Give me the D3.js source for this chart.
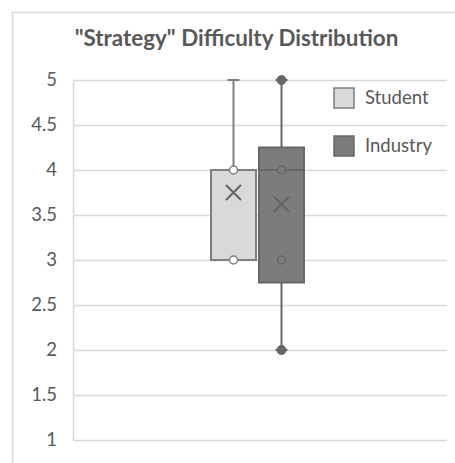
<!DOCTYPE html>
<html>
<head>
<meta charset="utf-8">
<script src="https://cdn.jsdelivr.net/npm/d3@7"></script>
<style>
  html, body { margin: 0; padding: 0; background: #fff; }
  svg { display: block; }
</style>
</head>
<body>
<svg id="chart" width="455" height="463"></svg>
<script>
// Box-plot statistics for each group
const seriesNames = ["Student", "Industry"];
const q1Values = [3, 2.75];
const q3Values = [4, 4.25];
const medianValues = [4, 4];
const lowWhiskers = [3, 2];
const highWhiskers = [5, 5];
const meanValues = [3.75, 3.62];
// Individual points plotted on each box
const innerPoints = [[3, 4], [3, 4]];
const endPoints = [[], [2, 5]];
// Value axis ticks
const tickValues = [1, 1.5, 2, 2.5, 3, 3.5, 4, 4.5, 5];
const tickLabels = ["1", "1.5", "2", "2.5", "3", "3.5", "4", "4.5", "5"];
const titleText = "\"Strategy\" Difficulty Distribution";

const fills = ["#d9d9d9", "#7c7c7c"];
const strokes = ["#7f7f7f", "#676767"];
const pointFills = ["#ffffff", "#7c7c7c"];
const font = "Lato, 'Open Sans', sans-serif";

const svg = d3.select("#chart");

// Outer chart frame
svg.append("rect")
  .attr("x", 12.5).attr("y", 12.5)
  .attr("width", 460).attr("height", 470)
  .attr("fill", "#fff").attr("stroke", "#d9d9d9").attr("stroke-width", 1.5);

const plot = { left: 73, right: 447, top: 80, bottom: 440 };

const y = d3.scaleLinear().domain([1, 5]).range([plot.bottom, plot.top]);
const x = d3.scaleBand().domain(seriesNames).range([211, 304]).paddingInner(0.0625);

// Title
svg.append("text")
  .attr("x", 236.5).attr("y", 46)
  .attr("text-anchor", "middle")
  .attr("font-family", font).attr("font-weight", 700)
  .attr("font-size", 22.4).attr("fill", "#595959")
  .text(titleText);

// Gridlines and value axis
const yAxis = d3.axisLeft(y)
  .tickValues(tickValues)
  .tickFormat((d, i) => tickLabels[i])
  .tickSize(-(plot.right - plot.left))
  .tickPadding(16);

const gAxis = svg.append("g")
  .attr("transform", `translate(${plot.left},0)`)
  .call(yAxis);
gAxis.select(".domain").attr("stroke", "#d9d9d9").attr("stroke-width", 1.5)
  .attr("d", `M0.5,${plot.top}V${plot.bottom}`);
gAxis.selectAll(".tick line").attr("stroke", "#d9d9d9").attr("stroke-width", 1.5);
gAxis.selectAll(".tick text")
  .attr("font-family", font).attr("font-size", 18.5).attr("fill", "#595959");

// Boxes
const groups = svg.selectAll(".box")
  .data(seriesNames)
  .join("g")
  .attr("class", "box");

groups.each(function(name, i) {
  const g = d3.select(this);
  const x0 = x(name);
  const w = x.bandwidth();
  const cx = x0 + w / 2;
  const capHalf = 6;

  // whiskers
  g.append("line")
    .attr("x1", cx).attr("x2", cx)
    .attr("y1", y(highWhiskers[i])).attr("y2", y(q3Values[i]))
    .attr("stroke", strokes[i]).attr("stroke-width", 2);
  g.append("line")
    .attr("x1", cx - capHalf).attr("x2", cx + capHalf)
    .attr("y1", y(highWhiskers[i])).attr("y2", y(highWhiskers[i]))
    .attr("stroke", strokes[i]).attr("stroke-width", 2);
  if (lowWhiskers[i] < q1Values[i]) {
    g.append("line")
      .attr("x1", cx).attr("x2", cx)
      .attr("y1", y(q1Values[i])).attr("y2", y(lowWhiskers[i]))
      .attr("stroke", strokes[i]).attr("stroke-width", 2);
    g.append("line")
      .attr("x1", cx - capHalf).attr("x2", cx + capHalf)
      .attr("y1", y(lowWhiskers[i])).attr("y2", y(lowWhiskers[i]))
      .attr("stroke", strokes[i]).attr("stroke-width", 2);
  }

  // box
  g.append("rect")
    .attr("x", x0).attr("width", w)
    .attr("y", y(q3Values[i]))
    .attr("height", y(q1Values[i]) - y(q3Values[i]))
    .attr("fill", fills[i]).attr("stroke", strokes[i]).attr("stroke-width", 2);

  // median
  g.append("line")
    .attr("x1", x0).attr("x2", x0 + w)
    .attr("y1", y(medianValues[i])).attr("y2", y(medianValues[i]))
    .attr("stroke", strokes[i]).attr("stroke-width", 2);

  // mean marker
  const my = y(meanValues[i]);
  const s = 7.5;
  g.append("path")
    .attr("d", `M${cx - s},${my - s}L${cx + s},${my + s}M${cx - s},${my + s}L${cx + s},${my - s}`)
    .attr("stroke", "#646464").attr("stroke-width", 2).attr("fill", "none");

  // inner points
  g.selectAll(".pt").data(innerPoints[i]).join("circle")
    .attr("class", "pt")
    .attr("cx", cx).attr("cy", d => y(d)).attr("r", 4)
    .attr("fill", pointFills[i]).attr("stroke", strokes[i]).attr("stroke-width", 1.5);

  // whisker-end points
  g.selectAll(".ept").data(endPoints[i]).join("circle")
    .attr("class", "ept")
    .attr("cx", cx).attr("cy", d => y(d)).attr("r", 4.5)
    .attr("fill", "#666").attr("stroke", "#666").attr("stroke-width", 1);
});

// Legend
const legend = svg.append("g");
const legendY = [98, 146];
seriesNames.forEach((name, i) => {
  legend.append("rect")
    .attr("x", 334).attr("y", legendY[i] - 10)
    .attr("width", 20).attr("height", 20)
    .attr("fill", fills[i]).attr("stroke", strokes[i]).attr("stroke-width", 1.5);
  legend.append("text")
    .attr("x", 365).attr("y", legendY[i])
    .attr("dy", "0.35em")
    .attr("font-family", font).attr("font-size", 18.5).attr("fill", "#595959")
    .text(name);
});
</script>
</body>
</html>
